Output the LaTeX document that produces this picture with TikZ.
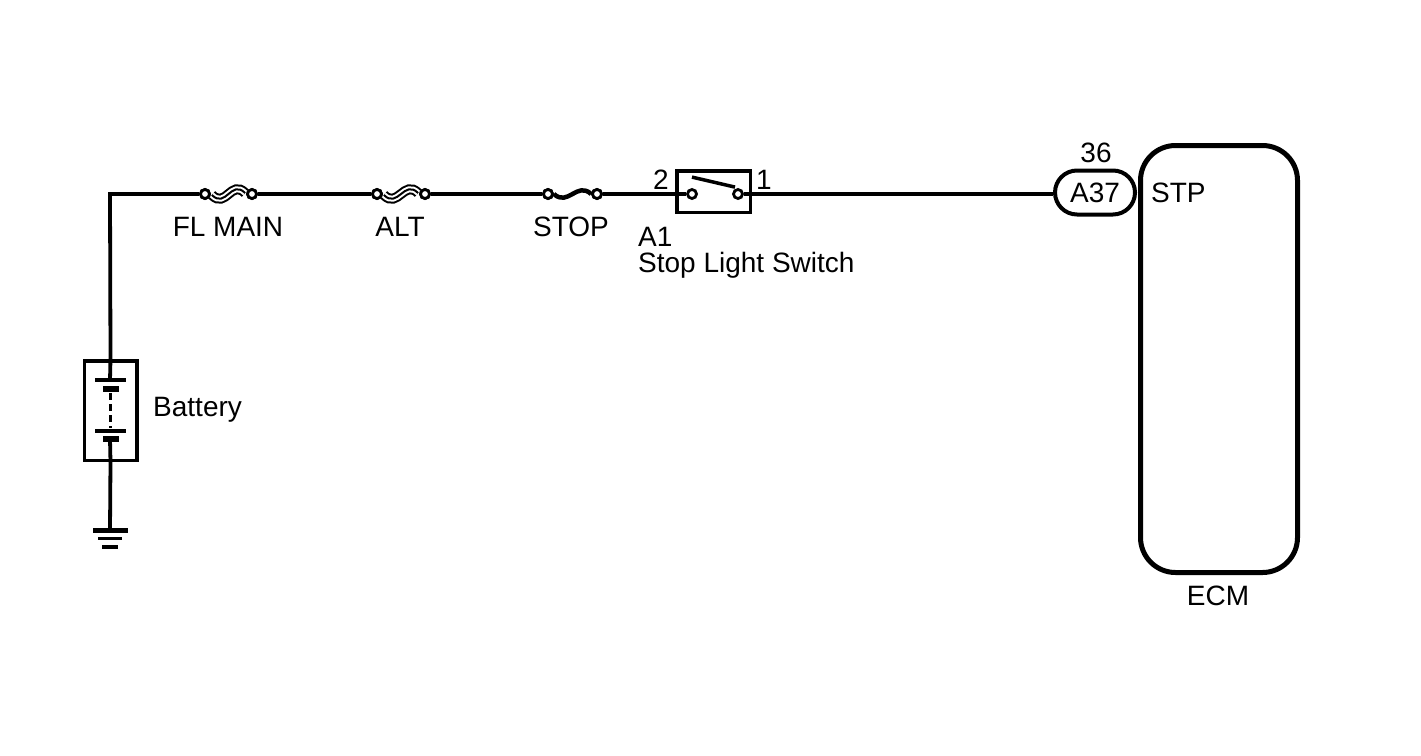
\documentclass[tikz,border=0pt]{standalone}
\usepackage{fontspec}
\setmainfont{Liberation Sans}
\usetikzlibrary{calc}
\begin{document}
\begin{tikzpicture}[x=1pt,y=-1pt,
  wire/.style={line width=3.8pt},
  term/.style={circle,draw,fill=white,line width=2.8pt,minimum size=9pt,inner sep=0pt},
  lbl/.style={font=\fontsize{28}{32}\selectfont,inner sep=0pt},
  plate/.style={line width=3.5pt},
  thickplate/.style={line width=6pt},
  linkouter/.style={line width=10pt},
  linkinner/.style={line width=6pt,white},
  linkcore/.style={line width=2pt}
]
\useasboundingbox (0,0) rectangle (1421,755);
\fill[white] (0,0) rectangle (1421,755);

% corner coordinate
\coordinate (tl) at (110,194);
\coordinate (gnd) at (110,530);

% terminals
\node[term] (f1a) at (205,194) {};
\node[term] (f1b) at (252,194) {};
\node[term] (f2a) at (377,194) {};
\node[term] (f2b) at (425,194) {};
\node[term] (f3a) at (548,194) {};
\node[term] (f3b) at (597,194) {};

% switch box
\node[draw,line width=3.5pt,minimum width=73.5pt,minimum height=41.5pt,inner sep=0pt] (sw) at (713.5,191.5) {};
\node[term] (s2) at (692,194) {};
\node[term] (s1) at (738,194) {};

% battery box
\node[draw,line width=3.5pt,minimum width=52.5pt,minimum height=99.5pt,inner sep=0pt] (batt) at (110.5,410.5) {};

% connector and ECM
\node[draw,line width=4pt,minimum width=80pt,minimum height=44pt,rounded corners=22pt,inner sep=0pt] (conn) at (1095,192.5) {};
\node[lbl] (connlbl) at (conn.center) {A37};
\node[draw,line width=5pt,minimum width=157pt,minimum height=427pt,rounded corners=35pt,inner sep=0pt] (ecm) at (1219,359) {};

% wires
\draw[wire] (batt.north) -- (tl) -- (f1a.west);
\draw[wire] (f1b.east) -- (f2a.west);
\draw[wire] (f2b.east) -- (f3a.west);
\draw[wire] (f3b.east) -- (s2.west);
\draw[wire] (s1.east) -- (s1.east -| conn.west);
\draw[wire] (batt.south) -- (gnd);

% fusible links
\foreach \a/\b in {f1a/f1b,f2a/f2b}{
  \draw[linkouter] ($(\a.east)+(1,1)$) .. controls +(14,14) and +(-14,-14) .. ($(\b.west)+(-1,-1)$);
  \draw[linkinner] ($(\a.east)+(1,1)$) .. controls +(14,14) and +(-14,-14) .. ($(\b.west)+(-1,-1)$);
  \draw[linkcore] ($(\a.east)+(1,1)$) .. controls +(14,14) and +(-14,-14) .. ($(\b.west)+(-1,-1)$);
}
% STOP fuse
\draw[line width=4.5pt] (f3a.east) .. controls +(14,13) and +(-14,-13) .. (f3b.west);
% redraw terminals on top
\foreach \n/\x in {f1a/205,f1b/252,f2a/377,f2b/425,f3a/548,f3b/597}{
  \node[term] at (\x,194) {};
}

% switch blade
\draw[line width=3.5pt] ($(s2.north)+(0,-11)$) -- ($(s1.north)+(-3,-1)$);

% battery internals
\draw[wire] (batt.north) -- (110,380);
\draw[plate] (95,380) -- (126,380);
\draw[thickplate] (103,389) -- (119,389);
\draw[line width=3pt,dash pattern=on 7pt off 4pt] (110,393) -- (110,428);
\draw[plate] (95,431) -- (126,431);
\draw[thickplate] (103,439) -- (119,439);
\draw[wire] (110,439) -- (batt.south);

% ground
\draw[line width=5pt] (93,530) -- (128,530);
\draw[line width=3.5pt] (98,538.5) -- (122,538.5);
\draw[line width=3.5pt] (102,547) -- (118,547);

% labels
\node[lbl,anchor=base] (l1) at (228,236) {FL MAIN};
\node[lbl,anchor=base] (l2) at (400,236) {ALT};
\node[lbl,anchor=base] (l3) at (571,236) {STOP};
\node[lbl,anchor=base] (p2) at (661,189) {2};
\node[lbl,anchor=base] (p1) at (764,189) {1};
\node[lbl,anchor=base west] (a1) at (638,246) {A1};
\node[lbl,anchor=base west] (sls) at (638,272) {Stop Light Switch};
\node[lbl,anchor=base west] (bl2) at (153,416) {Battery};
\node[lbl,anchor=base] (n36) at (1096,162) {36};
\node[lbl,anchor=base west] (stp) at (1151,202) {STP};
\node[lbl,anchor=base] (ecml) at (1218,605) {ECM};
\end{tikzpicture}
\end{document}
